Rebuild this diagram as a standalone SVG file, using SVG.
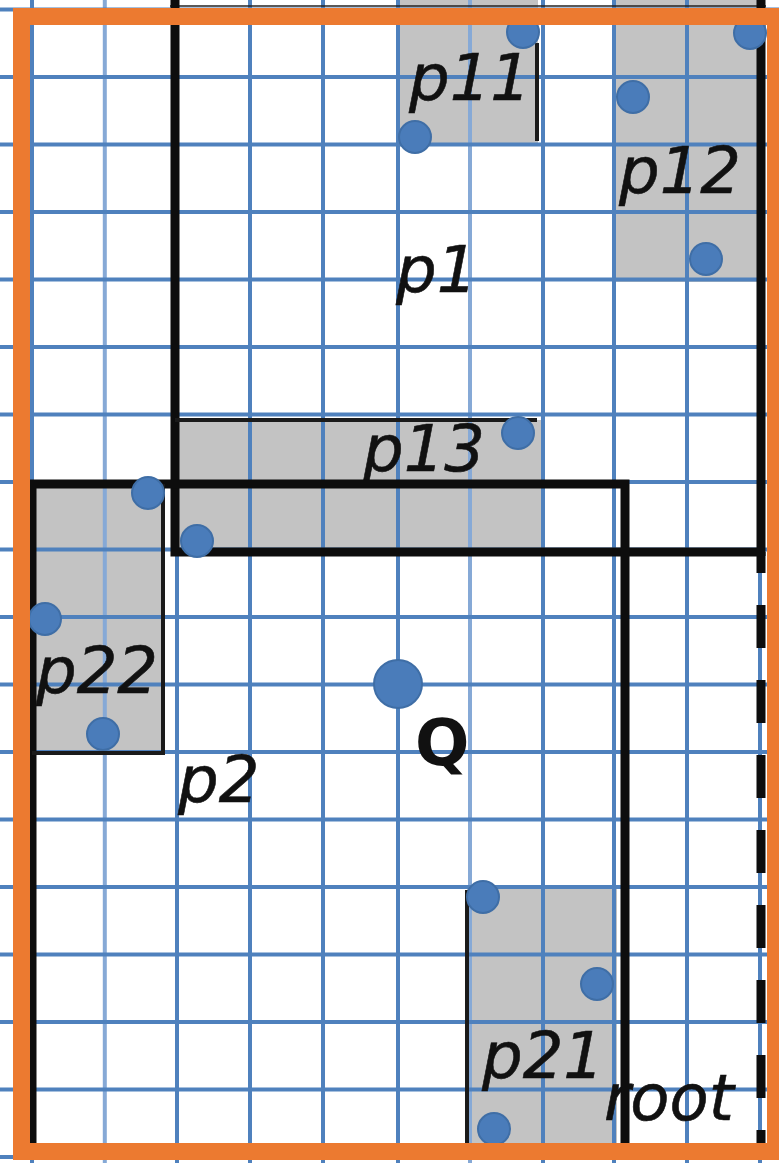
<svg xmlns="http://www.w3.org/2000/svg" width="779" height="1163" viewBox="0 0 779 1163">
<style>
.g{stroke:#4f81bd;stroke-width:4;fill:none}
.gl{stroke:#86a9d6;stroke-width:4;fill:none}
.fill{fill:#c3c3c3}
.bk{stroke:#0d0d0d;stroke-width:9;fill:none}
.th{stroke:#1a1a1a;stroke-width:4;fill:none}
.dot{fill:#4a7cba;stroke:#3f6ea6;stroke-width:2}
.lb{font-family:"DejaVu Sans","Verdana",sans-serif;font-size:64px;font-style:oblique;fill:#111;stroke:#111;stroke-width:0.6}
.q{font-family:"DejaVu Sans","Verdana",sans-serif;font-size:64px;font-weight:bold;fill:#111}
</style>
<rect x="0" y="0" width="779" height="1163" fill="#ffffff"/>
<g id="fills">
<rect class="fill" x="398" y="0" width="140" height="145"/>
<rect class="fill" x="613" y="0" width="148" height="282"/>
<rect class="fill" x="175" y="420" width="366" height="132"/>
<rect class="fill" x="32" y="484" width="131" height="269"/>
<rect class="fill" x="467" y="887" width="150" height="256"/>
</g>
<g id="grid">
<path class="g" d="M32 0V1163M177 0V1163M250 0V1163M323 0V1163M398 0V1163M543 0V1163M614 0V1163M687 0V1163M760 0V1163"/>
<path class="gl" d="M104.8 0V1163M470 0V1163"/>
<path class="g" d="M0 9.5H779M0 77H779M0 144.5H779M0 212H779M0 279.5H779M0 347H779M0 414.5H779M0 482H779M0 549.5H779M0 617H779M0 684.5H779M0 752H779M0 819.5H779M0 887H779M0 954.5H779M0 1022H779M0 1089.5H779M0 1157H779"/>
</g>
<g id="root">
<path d="M170 6H766" stroke="#222" stroke-width="1.5"/>
<path class="bk" d="M761 552V1143" stroke-dasharray="43 32" stroke-dashoffset="22"/>
<text class="lb" x="604" y="1120" font-size="66">root</text>
</g>
<g id="p1">
<path class="bk" d="M175 0V552H761M761 0V556"/>
<text class="lb" x="396" y="292">p1</text>
</g>
<g id="p11">
<path class="th" d="M537 43V141"/>
<circle class="dot" cx="523" cy="32" r="16"/>
<circle class="dot" cx="415" cy="137" r="16"/>
<text class="lb" x="409" y="100">p11</text>
</g>
<g id="p12">
<circle class="dot" cx="750" cy="33" r="16"/>
<circle class="dot" cx="633" cy="97" r="16"/>
<circle class="dot" cx="706" cy="259" r="16"/>
<text class="lb" x="619" y="193">p12</text>
</g>
<g id="p13">
<path class="th" d="M175 420H537" stroke-width="5"/>
<circle class="dot" cx="518" cy="433" r="16"/>
<circle class="dot" cx="197" cy="541" r="16"/>
<text class="lb" x="363" y="471">p13</text>
</g>
<g id="p2">
<path class="bk" d="M32 1143V484H625V1143"/>
<text class="lb" x="178" y="802">p2</text>
</g>
<g id="p22">
<path class="th" d="M163 484V753H32"/>
<circle class="dot" cx="148" cy="493" r="16"/>
<circle class="dot" cx="45" cy="619" r="16"/>
<circle class="dot" cx="103" cy="734" r="16"/>
<text class="lb" x="36" y="693">p22</text>
</g>
<g id="p21">
<path class="th" d="M467 890V1143"/>
<circle class="dot" cx="483" cy="897" r="16"/>
<circle class="dot" cx="597" cy="984" r="16"/>
<circle class="dot" cx="494" cy="1129" r="16"/>
<text class="lb" x="482" y="1078">p21</text>
</g>
<g id="Q">
<circle class="dot" cx="398" cy="684" r="24"/>
<text class="q" x="415" y="765">Q</text>
</g>
<g id="connectors"></g>
<rect id="frame" x="21.5" y="16.5" width="754" height="1135" fill="none" stroke="#ec7a30" stroke-width="17"/>
</svg>
